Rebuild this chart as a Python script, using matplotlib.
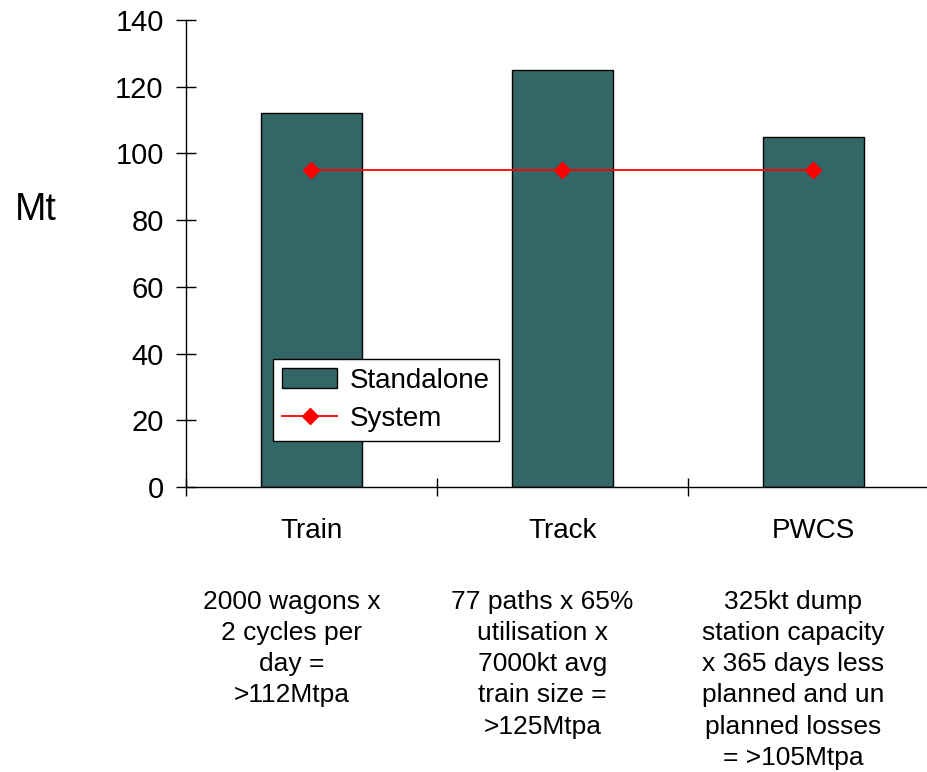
import matplotlib
matplotlib.use('Agg')
import matplotlib.pyplot as plt
import matplotlib.transforms as mtransforms
import numpy as np

plt.rcParams['font.family'] = ['Liberation Sans', 'DejaVu Sans']

# ── data ────────────────────────────────────────────────────────────────────
categories = ['Train', 'Track', 'PWCS']
standalone = [112, 125, 105]
system = [95, 95, 95]
notes = [
    '2000 wagons x\n2 cycles per\nday =\n>112Mtpa',
    '77 paths x 65%\nutilisation x\n7000kt avg\ntrain size =\n>125Mtpa',
    '325kt dump\nstation capacity\nx 365 days less\nplanned and un\nplanned losses\n= >105Mtpa',
]
yticks = [0, 20, 40, 60, 80, 100, 120, 140]

BAR_COLOR = '#336666'
LINE_COLOR = '#FF0000'

fig = plt.figure(figsize=(9.27, 7.72), dpi=100)
# axis runs off the right edge of the canvas
ax = fig.add_axes([0.2006, 0.3692, 0.8123, 0.6049])

x = np.arange(len(categories))
bars = ax.bar(x, standalone, width=0.40, color=BAR_COLOR, edgecolor='black',
              linewidth=1.0, label='Standalone', zorder=2)
line, = ax.plot(x, system, color=LINE_COLOR, linewidth=1.3, marker='D',
                markersize=8, markeredgecolor=LINE_COLOR, label='System',
                zorder=3)

ax.set_xlim(-0.5, 2.5)
ax.set_ylim(0, 140)

for s in ['top', 'right']:
    ax.spines[s].set_visible(False)
for s in ['left', 'bottom']:
    ax.spines[s].set_linewidth(1.0)

ax.set_yticks(yticks)
ax.tick_params(axis='y', direction='inout', length=14, width=1.0,
               labelsize=21, pad=9)

# category boundaries as major ticks, labels on minor ticks
ax.set_xticks([-0.5, 0.5, 1.5, 2.5])
ax.set_xticklabels([])
ax.set_xticks(x, minor=True)
ax.set_xticklabels(categories, minor=True, fontsize=20)
ax.tick_params(axis='x', which='major', direction='inout', length=13,
               width=1.0)
ax.tick_params(axis='x', which='minor', length=0, pad=22)

fig.text(0.039, 0.728, 'Mt', fontsize=27, ha='center', va='center')

# explanatory notes under each category, slightly left of the bar centre
trans = mtransforms.blended_transform_factory(ax.transData, fig.transFigure)
for i, note in enumerate(notes):
    ax.text(i - 0.08, 0.236, note, transform=trans, ha='center', va='top',
            multialignment='center', fontsize=19, linespacing=1.38)

leg = ax.legend(handles=[bars, line], labels=['Standalone', 'System'],
                loc='lower left', bbox_to_anchor=(0.1155, 0.0985),
                fontsize=20, frameon=True, fancybox=False, edgecolor='black',
                framealpha=1, borderpad=0.32, labelspacing=0.45,
                handlelength=2.0, handletextpad=0.45, borderaxespad=0)
leg.get_frame().set_linewidth(1.0)

fig.savefig('out.png', dpi=100)
